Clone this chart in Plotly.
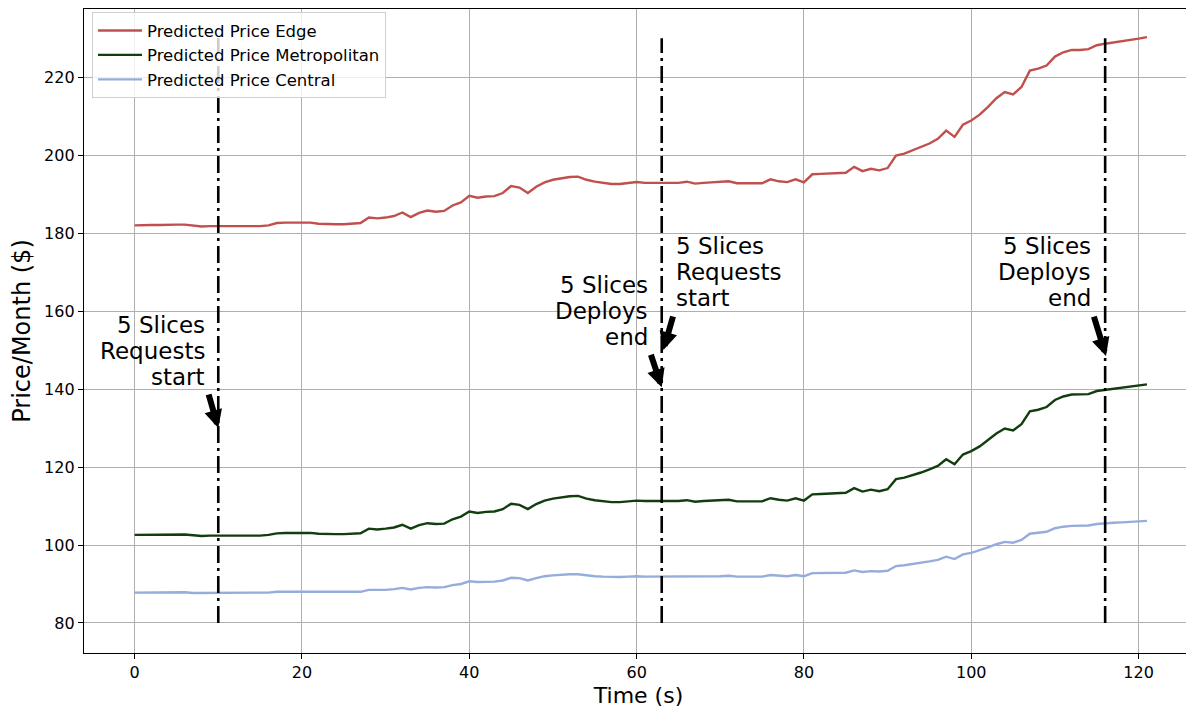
import plotly.graph_objects as go

time_s = list(range(0, 122))

price_edge = [
    182.0, 182.1, 182.1, 182.1, 182.2, 182.2, 182.2, 181.9, 181.7, 181.8,
    181.8, 181.8, 181.7, 181.7, 181.7, 181.8, 182.0, 182.6, 182.7, 182.7,
    182.7, 182.7, 182.4, 182.3, 182.3, 182.3, 182.4, 182.6, 184.0, 183.8,
    184.0, 184.4, 185.3, 184.1, 185.2, 185.8, 185.5, 185.7, 187.1, 187.9,
    189.6, 189.1, 189.4, 189.5, 190.3, 192.1, 191.7, 190.3, 191.9, 193.0,
    193.7, 194.0, 194.4, 194.5, 193.7, 193.2, 192.9, 192.6, 192.6, 192.8,
    193.1, 192.9, 192.9, 193.0, 193.0, 192.9, 193.2, 192.7, 192.9, 193.0,
    193.1, 193.3, 192.8, 192.8, 192.9, 192.8, 193.8, 193.3, 193.1, 193.8,
    193.0, 195.1, 195.2, 195.3, 195.4, 195.5, 197.0, 195.9, 196.5, 196.1,
    196.7, 199.9, 200.4, 201.2, 202.1, 203.0, 204.2, 206.3, 204.7, 207.8,
    208.9, 210.4, 212.4, 214.6, 216.2, 215.6, 217.5, 221.7, 222.2, 223.0,
    225.3, 226.4, 227.0, 227.0, 227.2, 228.2, 228.6, 228.9, 229.2, 229.6,
    229.9, 230.3,
]

price_metro = [
    102.6, 102.6, 102.6, 102.6, 102.7, 102.7, 102.7, 102.5, 102.3, 102.4,
    102.4, 102.4, 102.3, 102.3, 102.3, 102.4, 102.6, 103.0, 103.1, 103.1,
    103.1, 103.1, 102.9, 102.8, 102.8, 102.8, 102.9, 103.0, 104.2, 104.0,
    104.2, 104.5, 105.2, 104.2, 105.1, 105.6, 105.4, 105.5, 106.6, 107.3,
    108.6, 108.2, 108.5, 108.6, 109.2, 110.6, 110.3, 109.2, 110.5, 111.4,
    111.9, 112.2, 112.5, 112.6, 111.9, 111.5, 111.3, 111.0, 111.0, 111.2,
    111.4, 111.3, 111.3, 111.4, 111.4, 111.3, 111.5, 111.1, 111.3, 111.4,
    111.4, 111.6, 111.2, 111.2, 111.3, 111.2, 112.0, 111.6, 111.4, 112.0,
    111.4, 113.0, 113.1, 113.2, 113.3, 113.4, 114.6, 113.7, 114.2, 113.8,
    114.3, 116.9, 117.3, 117.9, 118.6, 119.4, 120.3, 122.0, 120.7, 123.2,
    124.1, 125.3, 126.9, 128.6, 129.9, 129.4, 131.0, 134.3, 134.7, 135.4,
    137.2, 138.1, 138.6, 138.6, 138.7, 139.5, 139.8, 140.1, 140.3, 140.6,
    140.9, 141.2,
]

price_central = [
    87.8, 87.8, 87.8, 87.8, 87.9, 87.9, 87.9, 87.7, 87.7, 87.7,
    87.7, 87.7, 87.7, 87.7, 87.7, 87.7, 87.8, 88.0, 88.0, 88.0,
    88.0, 88.0, 87.9, 87.9, 87.9, 87.9, 87.9, 88.0, 88.5, 88.5,
    88.5, 88.7, 89.0, 88.6, 89.0, 89.2, 89.1, 89.2, 89.7, 90.0,
    90.7, 90.5, 90.6, 90.6, 90.9, 91.6, 91.5, 90.9, 91.5, 92.0,
    92.2, 92.4, 92.5, 92.5, 92.2, 92.0, 91.9, 91.8, 91.8, 91.9,
    92.0, 91.9, 91.9, 92.0, 92.0, 91.9, 92.0, 91.9, 91.9, 92.0,
    92.0, 92.1, 91.9, 91.9, 91.9, 91.9, 92.3, 92.1, 92.0, 92.3,
    92.0, 92.8, 92.8, 92.8, 92.9, 92.9, 93.5, 93.1, 93.3, 93.2,
    93.4, 94.6, 94.8, 95.1, 95.4, 95.8, 96.2, 97.0, 96.4, 97.6,
    98.0, 98.6, 99.4, 100.2, 100.8, 100.6, 101.3, 102.9, 103.1, 103.4,
    104.3, 104.7, 104.9, 104.9, 105.0, 105.4, 105.6, 105.7, 105.8, 105.9,
    106.1, 106.2,
]

event_times = [10, 63, 116]
event_span = [80, 230]

# annotation texts (one list of lines per note)
note_lines = [
    ["5 Slices", "Requests", "start"],
    ["5 Slices", "Deploys", "end"],
    ["5 Slices", "Requests", "start"],
    ["5 Slices", "Deploys", "end"],
]
note_x = [8.55, 61.5, 64.55, 114.45]
note_y = [149.7, 160.0, 170.1, 170.1]
note_side = ["right", "right", "left", "right"]
tip_x = [10.0, 63.0, 63.2, 116.1]
tip_y = [130.0, 140.5, 150.0, 148.5]
tail_x = [8.8, 61.65, 64.4, 114.6]
tail_y = [139.0, 149.2, 159.0, 159.0]
line_gap = 6.67  # vertical spacing of note lines, in price units

FONT = "DejaVu Sans"

fig = go.Figure()
fig.add_trace(go.Scatter(x=time_s, y=price_edge, mode="lines", name="Predicted Price Edge",
                         line=dict(color="#c0504d", width=2.4)))
fig.add_trace(go.Scatter(x=time_s, y=price_metro, mode="lines", name="Predicted Price Metropolitan",
                         line=dict(color="#123d0e", width=2.4)))
fig.add_trace(go.Scatter(x=time_s, y=price_central, mode="lines", name="Predicted Price Central",
                         line=dict(color="#95acdc", width=2.4)))

for t in event_times:
    fig.add_trace(go.Scatter(x=[t, t], y=event_span, mode="lines", showlegend=False,
                             hoverinfo="skip",
                             line=dict(color="black", width=2.6, dash="17px,5px,3px,5px")))

annotations = []
for i in range(len(note_lines)):
    n = len(note_lines[i])
    for j, txt in enumerate(note_lines[i]):
        yy = note_y[i] + ((n - 1) / 2 - j) * line_gap
        annotations.append(dict(
            x=note_x[i], y=yy, xref="x", yref="y", text=txt,
            showarrow=False, xanchor=note_side[i], yanchor="middle",
            font=dict(family=FONT, size=23, color="black"), borderpad=0,
        ))
    annotations.append(dict(
        x=tip_x[i], y=tip_y[i], ax=tail_x[i], ay=tail_y[i], xref="x", yref="y",
        axref="x", ayref="y", text="", showarrow=True, arrowhead=2, arrowsize=0.6,
        arrowwidth=6, arrowcolor="black", standoff=0, startstandoff=0,
    ))

fig.update_layout(
    width=1186, height=702,
    margin=dict(l=76, r=1, t=1, b=57),
    paper_bgcolor="white", plot_bgcolor="white",
    font=dict(family=FONT, size=16, color="black"),
    annotations=annotations,
    showlegend=True,
    legend=dict(x=0.0072, y=0.995, xanchor="left", yanchor="top",
                bgcolor="rgba(255,255,255,0.8)", bordercolor="#d0d0d0", borderwidth=1,
                font=dict(family=FONT, size=16.5, color="black"), tracegroupgap=0,
                itemwidth=44),
    xaxis=dict(range=[-6.05, 126.5], tickmode="array", tickvals=[0, 20, 40, 60, 80, 100, 120],
               showgrid=True, gridcolor="#b0b0b0", gridwidth=1.2, zeroline=False,
               showline=True, mirror=True, linecolor="black", linewidth=1.3,
               ticks="outside", ticklen=5, tickwidth=1.3, tickcolor="black",
               tickfont=dict(family=FONT, size=16, color="black"),
               title=dict(text="Time (s)", font=dict(family=FONT, size=22, color="black"),
                          standoff=6)),
    yaxis=dict(range=[72.3, 237.5], tickmode="array", tickvals=[80, 100, 120, 140, 160, 180, 200, 220],
               showgrid=True, gridcolor="#b0b0b0", gridwidth=1.2, zeroline=False,
               showline=True, mirror=True, linecolor="black", linewidth=1.3,
               ticks="outside", ticklen=5, tickwidth=1.3, tickcolor="black",
               tickfont=dict(family=FONT, size=16, color="black"),
               title=dict(text="Price/Month ($)", font=dict(family=FONT, size=24, color="black"),
                          standoff=6)),
)

fig.write_html("out.html")
